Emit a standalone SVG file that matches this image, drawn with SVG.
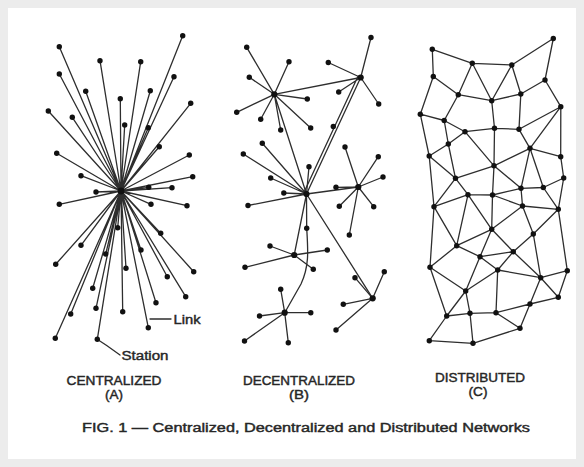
<svg xmlns="http://www.w3.org/2000/svg" width="584" height="467" viewBox="0 0 584 467">
<style>
.c{stroke:#2e2e2e;stroke-width:1.3;fill:none;stroke-linecap:round}
.h{fill:#111}
.n{fill:#111}
.t{font-family:"Liberation Sans","DejaVu Sans",sans-serif;fill:#262626;stroke:#262626;stroke-width:0.4;font-size:12px}
</style>
<rect width="584" height="467" fill="#ffffff"/>
<rect x="4" y="4" width="576" height="459" fill="none" stroke="#ececec" stroke-width="8"/>
<g id="connectors">
<path class="c" d="M121 191L59.3 46.7M121 191L182.7 35.7M121 191L100 60.7M121 191L140.7 61.7M121 191L59.3 74M121 191L174 76.7M121 191L85.7 91.3M121 191L150.3 90.7M121 191L120.3 98.7M121 191L190.7 103.3M121 191L48.3 111M121 191L72.3 117.3M121 191L124.7 125M121 191L148.3 127.7M121 191L159.3 146.7M121 191L56.7 153.3M121 191L189.3 155M121 191L81 175.7M121 191L192.7 176.7M121 191L148.7 187.3M121 191L172 187.7M121 191L96 192M121 191L59.3 204.3M121 191L151 204.3M121 191L187 205.7M121 191L117.7 227.7M121 191L160.7 233.3M121 191L81 245.3M121 191L141 250M121 191L105.7 254M121 191L55.7 264.3M121 191L126 268.3M121 191L193.7 271.7M121 191L167.3 276.7M121 191L92.7 288.3M121 191L185.7 296.7M121 191L156 302.7M121 191L96 308.3M121 191L70.7 314M121 191L122.7 311.7M121 191L148.3 327.7M121 191L55.3 338.3M121 191L97.3 339.3"/>
<path class="c" d="M150 319L171 319M98.3 340L106.7 345.5L120 355"/>
<path class="c" d="M274.3 94.3L246.7 47.3M274.3 94.3L289 61.7M274.3 94.3L249.3 77.3M274.3 94.3L307.3 99M274.3 94.3L236.7 112.3M274.3 94.3L260.7 119.3M274.3 94.3L310.7 128M274.3 94.3L280.7 130M274.3 94.3L360.7 77.5M274.3 94.3L306.5 194"/>
<path class="c" d="M360.7 77.5L371 37.5M360.7 77.5L328.3 62.5M360.7 77.5L338.7 92M360.7 77.5L378.7 104M360.7 77.5L306.5 194M358 76.2L303.8 192.7"/>
<path class="c" d="M306.5 194L262.3 143.3M306.5 194L243.3 154M306.5 194L309 166.7M306.5 194L270.7 178M306.5 194L283.8 193M306.5 194L248 205.5M306.5 194L358.3 187M306.5 194L294.2 255M306.5 194L372.7 298.3M306.5 194L306.7 228.3C308 250 309.5 266 301 284L284.7 312.7"/>
<path class="c" d="M358.3 187L336 187.3M358.3 187L345 147M358.3 187L378.3 156.7M358.3 187L383 177M358.3 187L339.3 206.3M358.3 187L373.7 206.7M358.3 187L349.3 235"/>
<path class="c" d="M294.2 255L270 246M294.2 255L327.3 250M294.2 255L245 267.3M294.2 255L313.3 269.3"/>
<path class="c" d="M284.7 312.7L280.7 289.3M284.7 312.7L310.8 312.7M284.7 312.7L259.5 316M284.7 312.7L244.5 341M284.7 312.7L288.3 342.7"/>
<path class="c" d="M372.7 298.3L384.3 271.7M372.7 298.3L355 277.7M372.7 298.3L343.3 304.3M372.7 298.3L336 330"/>
<path class="c" d="M432.3 49.3L433.3 76.5M432.3 49.3L472.3 63.3M472.3 63.3L511.8 65M511.8 65L553.3 38.5M553.3 38.5L545 80M472.3 63.3L458.3 94.7M472.3 63.3L491.7 100.7M511.8 65L491.7 100.7M511.8 65L520.8 94M433.3 76.5L458.3 94.7M433.3 76.5L420.3 114.2M458.3 94.7L491.7 100.7M491.7 100.7L520.8 94M520.8 94L545 80M545 80L560.8 106.7M458.3 94.7L444.2 120.5M420.3 114.2L444.2 120.5M420.3 114.2L429.2 156M444.2 120.5L465 131.7M444.2 120.5L448.3 144M465 131.7L448.3 144M448.3 144L429.2 156M465 131.7L494.5 128.3M494.5 128.3L519 129.3M519 129.3L560.8 106.7M560.8 106.7L530 148.3M560.8 106.7L560.7 156.7M519 129.3L530 148.3M491.7 100.7L494.5 128.3M520.8 94L519 129.3M465 131.7L494 165.8M494.5 128.3L494 165.8M530 148.3L494 165.8M530 148.3L560.7 156.7M530 148.3L521 188.3M530 148.3L543.3 187.5M560.7 156.7L563.7 178M448.3 144L455.5 178.3M429.2 156L455.5 178.3M494 165.8L455.5 178.3M494 165.8L492.5 195M494 165.8L521 188.3M455.5 178.3L468 194.7M563.7 178L543.3 187.5M521 188.3L543.3 187.5M468 194.7L492.5 195M492.5 195L521 188.3"/>
<path class="c" d="M429.2 156L434 206.7M455.5 178.3L434 206.7M468 194.7L434 206.7M521 188.3L522.5 206M543.3 187.5L558.3 209.3M563.7 178L558.3 209.3M492.5 195L522.5 206M468 194.7L456.7 245.7M468 194.7L491.7 229.3M492.5 195L491.7 229.3M522.5 206L558.3 209.3M522.5 206L491.7 229.3M522.5 206L533.3 234M558.3 209.3L533.3 234M558.3 209.3L567.3 270.7M434 206.7L456.7 245.7M434 206.7L430 267.3M491.7 229.3L456.7 245.7M491.7 229.3L480 256.7M491.7 229.3L513.3 251.7M533.3 234L513.3 251.7M533.3 234L540.7 277.7M456.7 245.7L480 256.7M456.7 245.7L430 267.3M513.3 251.7L480 256.7M513.3 251.7L497.7 270M513.3 251.7L540.7 277.7M480 256.7L497.7 270M480 256.7L465.7 291M430 267.3L465.7 291M430 267.3L446.7 316M497.7 270L540.7 277.7M497.7 270L465.7 291M497.7 270L496 312.7M567.3 270.7L540.7 277.7M567.3 270.7L558.3 297.3M540.7 277.7L558.3 297.3M540.7 277.7L530 304M558.3 297.3L530 304M530 304L496 312.7M530 304L520 328.3M465.7 291L446.7 316M465.7 291L470 313.3M446.7 316L470 313.3M446.7 316L429.3 340.7M470 313.3L496 312.7M470 313.3L473 343.3M496 312.7L520 328.3M520 328.3L473 343.3M429.3 340.7L473 343.3"/>
</g>
<g id="centralized">
<g id="A-hub"><circle class="h" cx="121" cy="191" r="3.4"/></g>
<g id="A1"><circle class="n" cx="59.3" cy="46.7" r="2.7"/></g>
<g id="A2"><circle class="n" cx="182.7" cy="35.7" r="2.7"/></g>
<g id="A3"><circle class="n" cx="100" cy="60.7" r="2.7"/></g>
<g id="A4"><circle class="n" cx="140.7" cy="61.7" r="2.7"/></g>
<g id="A5"><circle class="n" cx="59.3" cy="74" r="2.7"/></g>
<g id="A6"><circle class="n" cx="174" cy="76.7" r="2.7"/></g>
<g id="A7"><circle class="n" cx="85.7" cy="91.3" r="2.7"/></g>
<g id="A8"><circle class="n" cx="150.3" cy="90.7" r="2.7"/></g>
<g id="A9"><circle class="n" cx="120.3" cy="98.7" r="2.7"/></g>
<g id="A10"><circle class="n" cx="190.7" cy="103.3" r="2.7"/></g>
<g id="A11"><circle class="n" cx="48.3" cy="111" r="2.7"/></g>
<g id="A12"><circle class="n" cx="72.3" cy="117.3" r="2.7"/></g>
<g id="A13"><circle class="n" cx="124.7" cy="125" r="2.7"/></g>
<g id="A14"><circle class="n" cx="148.3" cy="127.7" r="2.7"/></g>
<g id="A15"><circle class="n" cx="159.3" cy="146.7" r="2.7"/></g>
<g id="A16"><circle class="n" cx="56.7" cy="153.3" r="2.7"/></g>
<g id="A17"><circle class="n" cx="189.3" cy="155" r="2.7"/></g>
<g id="A18"><circle class="n" cx="81" cy="175.7" r="2.7"/></g>
<g id="A19"><circle class="n" cx="192.7" cy="176.7" r="2.7"/></g>
<g id="A20"><circle class="n" cx="148.7" cy="187.3" r="2.7"/></g>
<g id="A21"><circle class="n" cx="172" cy="187.7" r="2.7"/></g>
<g id="A22"><circle class="n" cx="96" cy="192" r="2.7"/></g>
<g id="A23"><circle class="n" cx="59.3" cy="204.3" r="2.7"/></g>
<g id="A24"><circle class="n" cx="151" cy="204.3" r="2.7"/></g>
<g id="A25"><circle class="n" cx="187" cy="205.7" r="2.7"/></g>
<g id="A26"><circle class="n" cx="117.7" cy="227.7" r="2.7"/></g>
<g id="A27"><circle class="n" cx="160.7" cy="233.3" r="2.7"/></g>
<g id="A28"><circle class="n" cx="81" cy="245.3" r="2.7"/></g>
<g id="A29"><circle class="n" cx="141" cy="250" r="2.7"/></g>
<g id="A30"><circle class="n" cx="105.7" cy="254" r="2.7"/></g>
<g id="A31"><circle class="n" cx="55.7" cy="264.3" r="2.7"/></g>
<g id="A32"><circle class="n" cx="126" cy="268.3" r="2.7"/></g>
<g id="A33"><circle class="n" cx="193.7" cy="271.7" r="2.7"/></g>
<g id="A34"><circle class="n" cx="167.3" cy="276.7" r="2.7"/></g>
<g id="A35"><circle class="n" cx="92.7" cy="288.3" r="2.7"/></g>
<g id="A36"><circle class="n" cx="185.7" cy="296.7" r="2.7"/></g>
<g id="A37"><circle class="n" cx="156" cy="302.7" r="2.7"/></g>
<g id="A38"><circle class="n" cx="96" cy="308.3" r="2.7"/></g>
<g id="A39"><circle class="n" cx="70.7" cy="314" r="2.7"/></g>
<g id="A40"><circle class="n" cx="122.7" cy="311.7" r="2.7"/></g>
<g id="A41"><circle class="n" cx="148.3" cy="327.7" r="2.7"/></g>
<g id="A42"><circle class="n" cx="55.3" cy="338.3" r="2.7"/></g>
<g id="A43"><circle class="n" cx="97.3" cy="339.3" r="2.7"/></g>
</g>
<g id="decentralized">
<g id="B-hub1"><circle class="h" cx="274.3" cy="94.3" r="3.1"/></g>
<g id="B-hub2"><circle class="h" cx="360.7" cy="77.5" r="3.1"/></g>
<g id="B-hub3"><circle class="h" cx="306.5" cy="194" r="3.1"/></g>
<g id="B-hub4"><circle class="h" cx="358.3" cy="187" r="3.1"/></g>
<g id="B-hub5"><circle class="h" cx="294.2" cy="255" r="3.1"/></g>
<g id="B-hub6"><circle class="h" cx="284.7" cy="312.7" r="3.1"/></g>
<g id="B-hub7"><circle class="h" cx="372.7" cy="298.3" r="3.1"/></g>
<g id="B1"><circle class="n" cx="246.7" cy="47.3" r="2.7"/></g>
<g id="B2"><circle class="n" cx="289" cy="61.7" r="2.7"/></g>
<g id="B3"><circle class="n" cx="249.3" cy="77.3" r="2.7"/></g>
<g id="B4"><circle class="n" cx="307.3" cy="99" r="2.7"/></g>
<g id="B5"><circle class="n" cx="236.7" cy="112.3" r="2.7"/></g>
<g id="B6"><circle class="n" cx="260.7" cy="119.3" r="2.7"/></g>
<g id="B7"><circle class="n" cx="310.7" cy="128" r="2.7"/></g>
<g id="B8"><circle class="n" cx="280.7" cy="130" r="2.7"/></g>
<g id="B9"><circle class="n" cx="371" cy="37.5" r="2.7"/></g>
<g id="B10"><circle class="n" cx="328.3" cy="62.5" r="2.7"/></g>
<g id="B11"><circle class="n" cx="338.7" cy="92" r="2.7"/></g>
<g id="B12"><circle class="n" cx="378.7" cy="104" r="2.7"/></g>
<g id="B13"><circle class="n" cx="333.3" cy="126.5" r="2.7"/></g>
<g id="B14"><circle class="n" cx="262.3" cy="143.3" r="2.7"/></g>
<g id="B15"><circle class="n" cx="243.3" cy="154" r="2.7"/></g>
<g id="B16"><circle class="n" cx="309" cy="166.7" r="2.7"/></g>
<g id="B17"><circle class="n" cx="270.7" cy="178" r="2.7"/></g>
<g id="B18"><circle class="n" cx="283.8" cy="193" r="2.7"/></g>
<g id="B19"><circle class="n" cx="248" cy="205.5" r="2.7"/></g>
<g id="B20"><circle class="n" cx="306.7" cy="228.3" r="2.7"/></g>
<g id="B21"><circle class="n" cx="336" cy="187.3" r="2.7"/></g>
<g id="B22"><circle class="n" cx="345" cy="147" r="2.7"/></g>
<g id="B23"><circle class="n" cx="378.3" cy="156.7" r="2.7"/></g>
<g id="B24"><circle class="n" cx="383" cy="177" r="2.7"/></g>
<g id="B25"><circle class="n" cx="339.3" cy="206.3" r="2.7"/></g>
<g id="B26"><circle class="n" cx="373.7" cy="206.7" r="2.7"/></g>
<g id="B27"><circle class="n" cx="349.3" cy="235" r="2.7"/></g>
<g id="B28"><circle class="n" cx="270" cy="246" r="2.7"/></g>
<g id="B29"><circle class="n" cx="327.3" cy="250" r="2.7"/></g>
<g id="B30"><circle class="n" cx="245" cy="267.3" r="2.7"/></g>
<g id="B31"><circle class="n" cx="313.3" cy="269.3" r="2.7"/></g>
<g id="B32"><circle class="n" cx="280.7" cy="289.3" r="2.7"/></g>
<g id="B33"><circle class="n" cx="310.8" cy="312.7" r="2.7"/></g>
<g id="B34"><circle class="n" cx="259.5" cy="316" r="2.7"/></g>
<g id="B35"><circle class="n" cx="244.5" cy="341" r="2.7"/></g>
<g id="B36"><circle class="n" cx="288.3" cy="342.7" r="2.7"/></g>
<g id="B37"><circle class="n" cx="384.3" cy="271.7" r="2.7"/></g>
<g id="B38"><circle class="n" cx="355" cy="277.7" r="2.7"/></g>
<g id="B39"><circle class="n" cx="343.3" cy="304.3" r="2.7"/></g>
<g id="B40"><circle class="n" cx="336" cy="330" r="2.7"/></g>
</g>
<g id="distributed">
<g id="C1"><circle class="n" cx="432.3" cy="49.3" r="2.7"/></g>
<g id="C2"><circle class="n" cx="553.3" cy="38.5" r="2.7"/></g>
<g id="C3"><circle class="n" cx="472.3" cy="63.3" r="2.7"/></g>
<g id="C4"><circle class="n" cx="511.8" cy="65" r="2.7"/></g>
<g id="C5"><circle class="n" cx="433.3" cy="76.5" r="2.7"/></g>
<g id="C6"><circle class="n" cx="545" cy="80" r="2.7"/></g>
<g id="C7"><circle class="n" cx="458.3" cy="94.7" r="2.7"/></g>
<g id="C8"><circle class="n" cx="491.7" cy="100.7" r="2.7"/></g>
<g id="C9"><circle class="n" cx="520.8" cy="94" r="2.7"/></g>
<g id="C10"><circle class="n" cx="560.8" cy="106.7" r="2.7"/></g>
<g id="C11"><circle class="n" cx="420.3" cy="114.2" r="2.7"/></g>
<g id="C12"><circle class="n" cx="444.2" cy="120.5" r="2.7"/></g>
<g id="C13"><circle class="n" cx="465" cy="131.7" r="2.7"/></g>
<g id="C14"><circle class="n" cx="494.5" cy="128.3" r="2.7"/></g>
<g id="C15"><circle class="n" cx="519" cy="129.3" r="2.7"/></g>
<g id="C16"><circle class="n" cx="448.3" cy="144" r="2.7"/></g>
<g id="C17"><circle class="n" cx="530" cy="148.3" r="2.7"/></g>
<g id="C18"><circle class="n" cx="429.2" cy="156" r="2.7"/></g>
<g id="C19"><circle class="n" cx="560.7" cy="156.7" r="2.7"/></g>
<g id="C20"><circle class="n" cx="494" cy="165.8" r="2.7"/></g>
<g id="C21"><circle class="n" cx="455.5" cy="178.3" r="2.7"/></g>
<g id="C22"><circle class="n" cx="563.7" cy="178" r="2.7"/></g>
<g id="C23"><circle class="n" cx="521" cy="188.3" r="2.7"/></g>
<g id="C24"><circle class="n" cx="543.3" cy="187.5" r="2.7"/></g>
<g id="C25"><circle class="n" cx="468" cy="194.7" r="2.7"/></g>
<g id="C26"><circle class="n" cx="492.5" cy="195" r="2.7"/></g>
<g id="C27"><circle class="n" cx="434" cy="206.7" r="2.7"/></g>
<g id="C28"><circle class="n" cx="522.5" cy="206" r="2.7"/></g>
<g id="C29"><circle class="n" cx="558.3" cy="209.3" r="2.7"/></g>
<g id="C30"><circle class="n" cx="491.7" cy="229.3" r="2.7"/></g>
<g id="C31"><circle class="n" cx="533.3" cy="234" r="2.7"/></g>
<g id="C32"><circle class="n" cx="456.7" cy="245.7" r="2.7"/></g>
<g id="C33"><circle class="n" cx="513.3" cy="251.7" r="2.7"/></g>
<g id="C34"><circle class="n" cx="480" cy="256.7" r="2.7"/></g>
<g id="C35"><circle class="n" cx="430" cy="267.3" r="2.7"/></g>
<g id="C36"><circle class="n" cx="497.7" cy="270" r="2.7"/></g>
<g id="C37"><circle class="n" cx="567.3" cy="270.7" r="2.7"/></g>
<g id="C38"><circle class="n" cx="540.7" cy="277.7" r="2.7"/></g>
<g id="C39"><circle class="n" cx="465.7" cy="291" r="2.7"/></g>
<g id="C40"><circle class="n" cx="558.3" cy="297.3" r="2.7"/></g>
<g id="C41"><circle class="n" cx="530" cy="304" r="2.7"/></g>
<g id="C42"><circle class="n" cx="446.7" cy="316" r="2.7"/></g>
<g id="C43"><circle class="n" cx="470" cy="313.3" r="2.7"/></g>
<g id="C44"><circle class="n" cx="496" cy="312.7" r="2.7"/></g>
<g id="C45"><circle class="n" cx="520" cy="328.3" r="2.7"/></g>
<g id="C46"><circle class="n" cx="429.3" cy="340.7" r="2.7"/></g>
<g id="C47"><circle class="n" cx="473" cy="343.3" r="2.7"/></g>
</g>
<g id="labels">
<text class="t" x="173.5" y="323.5" textLength="27" lengthAdjust="spacingAndGlyphs">Link</text>
<text class="t" x="121.5" y="359.5" textLength="47" lengthAdjust="spacingAndGlyphs">Station</text>
<text class="t" x="114" y="385" text-anchor="middle" textLength="95" lengthAdjust="spacingAndGlyphs">CENTRALIZED</text>
<text class="t" x="114" y="398.5" text-anchor="middle" textLength="18" lengthAdjust="spacingAndGlyphs">(A)</text>
<text class="t" x="299" y="384.5" text-anchor="middle" textLength="112" lengthAdjust="spacingAndGlyphs">DECENTRALIZED</text>
<text class="t" x="299" y="398.5" text-anchor="middle" textLength="20" lengthAdjust="spacingAndGlyphs">(B)</text>
<text class="t" x="480" y="381.5" text-anchor="middle" textLength="90" lengthAdjust="spacingAndGlyphs">DISTRIBUTED</text>
<text class="t" x="478" y="395.5" text-anchor="middle" textLength="19" lengthAdjust="spacingAndGlyphs">(C)</text>
<text class="t" x="306" y="431.5" text-anchor="middle" textLength="448" lengthAdjust="spacingAndGlyphs">FIG. 1 — Centralized, Decentralized and Distributed Networks</text>
</g>
</svg>
